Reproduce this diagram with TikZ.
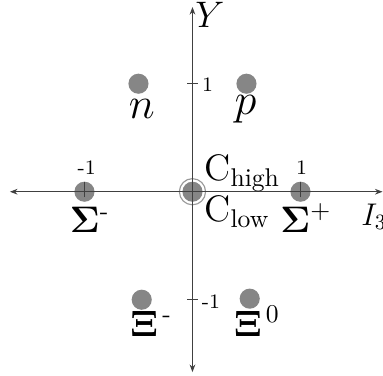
\documentclass[tikz,border=0pt]{standalone}
\usepackage{amsmath}
\usetikzlibrary{arrows.meta}

\begin{document}
\begin{tikzpicture}[x=2cm,y=2cm]
\tikzset{dot/.style={fill=gray!95}, axis/.style={black!75,line width=0.5pt}, lab/.style={font=\Large,scale=1.35,inner sep=0pt}, num/.style={font=\footnotesize,scale=1.35,inner sep=1pt}}
\useasboundingbox (-1.782,-1.697) rectangle (1.764,1.775);
\coordinate (O) at (0,0); \coordinate (N) at (-0.5,1); \coordinate (P) at (0.5,1); \coordinate (Sm) at (-1,0); \coordinate (Sp) at (1,0); \coordinate (Xm) at (-0.47,-1); \coordinate (Xz) at (0.53,-0.99);
\coordinate (L) at (-1.69,0); \coordinate (R) at (1.76,0); \coordinate (T) at (0,1.71); \coordinate (B) at (0,-1.67);
\fill[dot] (N) circle (5.3pt); \fill[dot] (P) circle (5.3pt); \fill[dot] (Sm) circle (5.3pt); \fill[dot] (Sp) circle (5.3pt);
\fill[dot] (Xm) circle (5.3pt); \fill[dot] (Xz) circle (5.3pt);
\fill[dot] (O) circle (5.3pt);
\draw[gray!80,line width=0.6pt] (O) circle (6.9pt);
\draw[axis,{Stealth[length=4pt,width=3pt]}-{Stealth[length=4pt,width=3pt]}] (L)--(R);
\draw[axis,{Stealth[length=4pt,width=3pt]}-{Stealth[length=4pt,width=3pt]}] (B)--(T);
\draw[axis] (-0.05,1)--(0.05,1); \draw[axis] (-0.05,-1)--(0.05,-1);
\draw[axis] (-1,-0.05)--(-1,0.09); \draw[axis] (1,-0.05)--(1,0.09);
\node[num] (y1) at (0.14,0.995) {1};
\node[num] (ym1) at (0.17,-1.02) {-1};
\node[num] (xm1) at (-0.98,0.22) {-1};
\node[num] (x1) at (1.01,0.22) {1};
\node[lab,font=\LARGE] (n) at (-0.47,0.77) {$n$};
\node[lab,font=\LARGE] (p) at (0.49,0.76) {$p$};
\node[lab] (sm) at (-0.95,-0.26) {$\mathbf{\Sigma}^{\text{-}}$};
\node[lab] (sp) at (1.05,-0.245) {$\mathbf{\Sigma}^{+}$};
\node[lab,anchor=base west] (xm) at (-0.58,-1.336) {$\mathbf{\Xi}^{\,\text{-}}$};
\node[lab,anchor=base west] (xz) at (0.38,-1.336) {$\mathbf{\Xi}^{\,0}$};
\node[lab,anchor=base west] (ch) at (0.106,0.10) {C\textsubscript{\normalsize high}};
\node[lab,anchor=base west] (cl) at (0.106,-0.278) {C\textsubscript{\normalsize low}};
\node[lab,scale=0.85,anchor=base west] (i3) at (1.56,-0.31) {$I_3$};
\node[lab] (y) at (0.16,1.64) {$Y$};
\end{tikzpicture}
\end{document}
